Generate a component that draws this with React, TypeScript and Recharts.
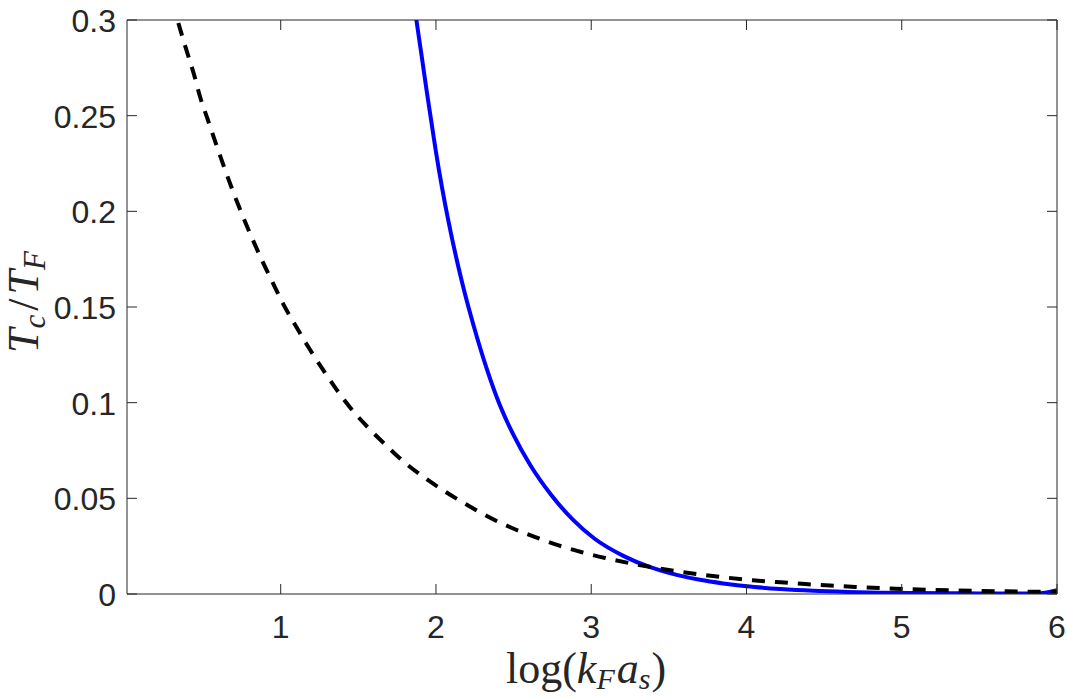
import React from 'react';
import { LineChart, Line, XAxis, YAxis, Label } from 'recharts';

const xTicks = [1, 2, 3, 4, 5, 6];
const yTicks = [0, 0.05, 0.1, 0.15, 0.2, 0.25, 0.3];
const yTickLabels = ['0', '0.05', '0.1', '0.15', '0.2', '0.25', '0.3'];

const dashedX = [0.3, 0.335, 0.39, 0.44, 0.48, 0.53, 0.58, 0.636, 0.69, 0.753, 0.81, 0.876, 0.947, 1.02, 1.105, 1.18, 1.27, 1.36, 1.46, 1.565, 1.685, 1.8, 1.93, 2.06, 2.2, 2.34, 2.49, 2.64, 2.79, 2.94, 3.09, 3.25, 3.41, 3.57, 3.72, 3.88, 4.04, 4.22, 4.38, 4.54, 4.7, 4.86, 5.02, 5.18, 5.34, 5.5, 5.67, 5.83, 6.0];
const dashedY = [0.31, 0.3, 0.285, 0.272, 0.26, 0.248, 0.236, 0.223, 0.211, 0.198, 0.187, 0.175, 0.163, 0.151, 0.139, 0.1288, 0.1175, 0.1068, 0.0962, 0.0868, 0.0772, 0.0686, 0.0606, 0.0535, 0.0466, 0.0402, 0.0345, 0.0297, 0.0254, 0.0218, 0.0188, 0.0161, 0.0137, 0.0117, 0.0100, 0.0085, 0.0072, 0.0061, 0.0052, 0.0044, 0.0037, 0.0031, 0.0026, 0.0022, 0.0019, 0.0016, 0.0014, 0.0012, 0.0011];

const blueX = [1.85, 1.874, 1.91, 1.94, 1.97, 2.0, 2.04, 2.08, 2.13, 2.18, 2.24, 2.33, 2.41, 2.5, 2.61, 2.74, 2.88, 3.02, 3.21, 3.38, 3.55, 3.7, 3.85, 4.0, 4.22, 4.43, 4.65, 4.86, 5.07, 5.29, 5.5, 5.72, 5.87, 6.0];
const blueY = [0.314, 0.3, 0.28, 0.263, 0.247, 0.231, 0.212, 0.195, 0.176, 0.159, 0.141, 0.117, 0.099, 0.083, 0.067, 0.052, 0.039, 0.029, 0.0198, 0.014, 0.01, 0.0074, 0.0055, 0.004, 0.0026, 0.0017, 0.0011, 0.0007, 0.0005, 0.0004, 0.0003, 0.0003, 0.0003, 0.002];

const dashedData = dashedX.map((x, i) => ({ x, y: dashedY[i] }));
const blueData = blueX.map((x, i) => ({ x, y: blueY[i] }));

const AXIS = '#262626';
const TICK_FONT = "'Liberation Sans', Arial, Helvetica, sans-serif";
const SERIF = "'Liberation Serif', 'Times New Roman', serif";

const BottomTick = (props: any) => {
  const { x, y, payload } = props;
  return (
    <g>
      <line x1={x} y1={y} x2={x} y2={y - 10} stroke={AXIS} strokeWidth={1} />
      <text x={x} y={y + 44} textAnchor="middle" fontFamily={TICK_FONT} fontSize={32} fill={AXIS}>
        {String(payload.value)}
      </text>
    </g>
  );
};

const TopTick = (props: any) => {
  const { x, y } = props;
  return <line x1={x} y1={y} x2={x} y2={y + 10} stroke={AXIS} strokeWidth={1} />;
};

const LeftTick = (props: any) => {
  const { x, y, payload } = props;
  const idx = yTicks.indexOf(payload.value);
  const label = idx >= 0 ? yTickLabels[idx] : String(payload.value);
  return (
    <g>
      <line x1={x} y1={y} x2={x + 10} y2={y} stroke={AXIS} strokeWidth={1} />
      <text x={x - 11} y={y + 12} textAnchor="end" fontFamily={TICK_FONT} fontSize={32} fill={AXIS}>
        {label}
      </text>
    </g>
  );
};

const RightTick = (props: any) => {
  const { x, y } = props;
  return <line x1={x} y1={y} x2={x - 10} y2={y} stroke={AXIS} strokeWidth={1} />;
};

const XLabel = (props: any) => {
  const vb = props.viewBox || { x: 127, y: 594, width: 930, height: 104 };
  const cx = vb.x + vb.width / 2 - 6;
  const by = vb.y + 89;
  return (
    <text x={cx} y={by} textAnchor="middle" fontFamily={SERIF} fontSize={44} fill={AXIS}>
      <tspan>log(</tspan>
      <tspan fontStyle="italic">k</tspan>
      <tspan fontStyle="italic" fontSize={30} dy={6}>F</tspan>
      <tspan fontStyle="italic" dy={-6} dx={2}>a</tspan>
      <tspan fontStyle="italic" fontSize={30} dy={6}>s</tspan>
      <tspan dy={-6} dx={1}>)</tspan>
    </text>
  );
};

const YLabel = (props: any) => {
  const vb = props.viewBox || { x: 0, y: 20, width: 127, height: 574 };
  const cx = 38;
  const cy = vb.y + vb.height / 2 - 5;
  return (
    <text
      x={cx}
      y={cy}
      transform={`rotate(-90, ${cx}, ${cy})`}
      textAnchor="middle"
      fontFamily={SERIF}
      fontSize={44}
      fill={AXIS}
    >
      <tspan fontStyle="italic">T</tspan>
      <tspan fontStyle="italic" fontSize={31} dy={7}>c</tspan>
      <tspan dy={-7} dx={4}>/</tspan>
      <tspan fontStyle="italic" dx={4}>T</tspan>
      <tspan fontStyle="italic" fontSize={31} dy={7}>F</tspan>
    </text>
  );
};

export default function App() {
  return (
    <div style={{ position: 'absolute', left: 0, top: 0, width: 1067, height: 698, background: '#fff' }}>
      <LineChart width={1067} height={698} margin={{ top: 0, right: 0, left: 0, bottom: 0 }}>
        <XAxis
          xAxisId="b"
          type="number"
          dataKey="x"
          domain={[0.01, 6]}
          allowDataOverflow
          ticks={xTicks}
          interval={0}
          height={104}
          tickSize={0}
          tickMargin={0}
          tickLine={false}
          tick={<BottomTick />}
          axisLine={{ stroke: AXIS, strokeWidth: 1 }}
        >
          <Label content={<XLabel />} />
        </XAxis>
        <XAxis
          xAxisId="t"
          orientation="top"
          type="number"
          dataKey="x"
          domain={[0.01, 6]}
          allowDataOverflow
          ticks={xTicks}
          interval={0}
          height={20}
          tickSize={0}
          tickMargin={0}
          tickLine={false}
          tick={<TopTick />}
          axisLine={{ stroke: AXIS, strokeWidth: 1 }}
        />
        <YAxis
          yAxisId="l"
          type="number"
          domain={[0, 0.3]}
          allowDataOverflow
          ticks={yTicks}
          interval={0}
          width={127}
          tickSize={0}
          tickMargin={0}
          tickLine={false}
          tick={<LeftTick />}
          axisLine={{ stroke: AXIS, strokeWidth: 1 }}
        >
          <Label content={<YLabel />} />
        </YAxis>
        <YAxis
          yAxisId="r"
          orientation="right"
          type="number"
          domain={[0, 0.3]}
          allowDataOverflow
          ticks={yTicks}
          interval={0}
          width={10}
          tickSize={0}
          tickMargin={0}
          tickLine={false}
          tick={<RightTick />}
          axisLine={{ stroke: AXIS, strokeWidth: 1 }}
        />
        <Line
          xAxisId="b"
          yAxisId="l"
          data={blueData}
          dataKey="y"
          type="monotone"
          stroke="#0000FF"
          strokeWidth={4}
          dot={false}
          activeDot={false}
          isAnimationActive={false}
        />
        <Line
          xAxisId="b"
          yAxisId="l"
          data={dashedData}
          dataKey="y"
          type="monotone"
          stroke="#000000"
          strokeWidth={4}
          strokeDasharray="13 10"
          dot={false}
          activeDot={false}
          isAnimationActive={false}
        />
      </LineChart>
    </div>
  );
}
